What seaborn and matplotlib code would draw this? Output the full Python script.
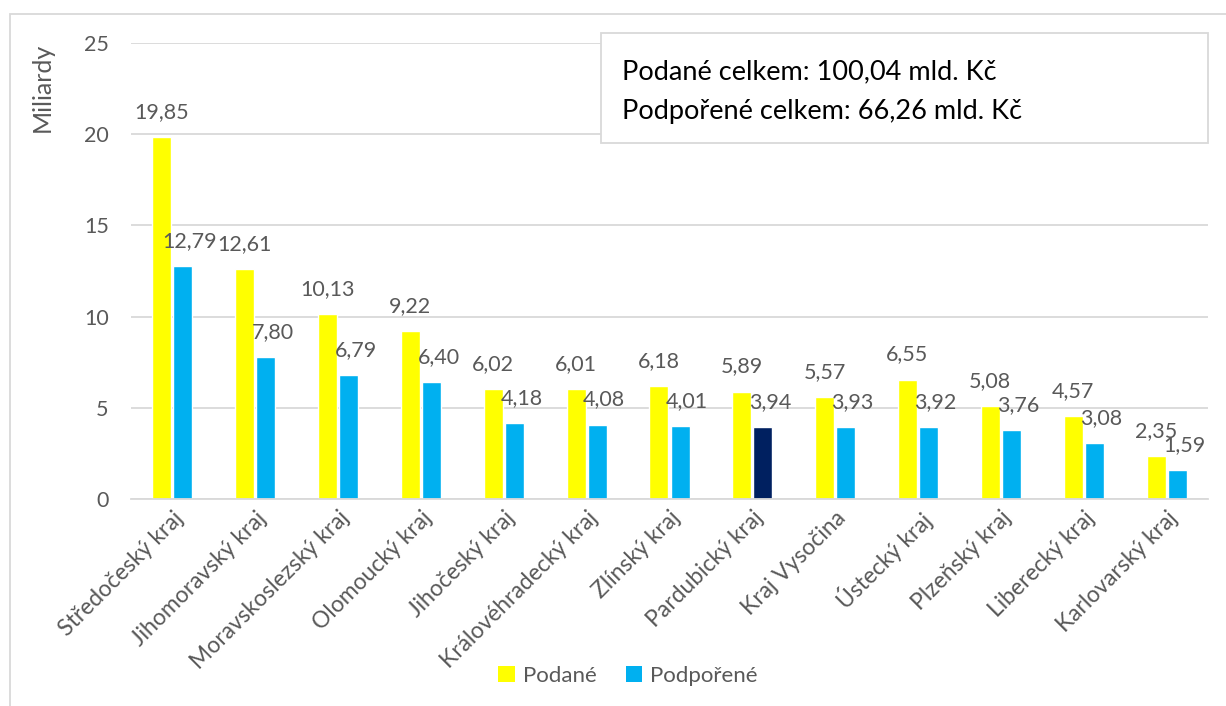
import matplotlib
matplotlib.use("Agg")
import matplotlib.pyplot as plt
import seaborn as sns
import pandas as pd
from matplotlib.patches import Rectangle, Patch

regions = ["Středočeský kraj", "Jihomoravský kraj", "Moravskoslezský kraj", "Olomoucký kraj",
           "Jihočeský kraj", "Královéhradecký kraj", "Zlínský kraj", "Pardubický kraj",
           "Kraj Vysočina", "Ústecký kraj", "Plzeňský kraj", "Liberecký kraj", "Karlovarský kraj"]
podane = [19.85, 12.61, 10.13, 9.22, 6.02, 6.01, 6.18, 5.89, 5.57, 6.55, 5.08, 4.57, 2.35]
podporene = [12.79, 7.80, 6.79, 6.40, 4.18, 4.08, 4.01, 3.94, 3.93, 3.92, 3.76, 3.08, 1.59]
series = ["Podané", "Podpořené"]
highlight_region = "Pardubický kraj"
box_lines = ["Podané celkem: 100,04 mld. Kč", "Podpořené celkem: 66,26 mld. Kč"]

df = pd.DataFrame({
    "kraj": regions * 2,
    "serie": [series[0]] * len(regions) + [series[1]] * len(regions),
    "hodnota": podane + podporene,
})

sns.set_theme(style="white")
plt.rcParams["font.family"] = ["Lato", "DejaVu Sans"]
TXT = "#595959"
colors = {"Podané": "#FFFF00", "Podpořené": "#00B0F0"}

fig = plt.figure(figsize=(12.26, 7.06), dpi=100)
ax = fig.add_axes([131 / 1226, 1 - 499 / 706, (1208 - 131) / 1226, (499 - 43) / 706])

sns.barplot(data=df, x="kraj", y="hodnota", hue="serie", palette=colors, order=regions,
            hue_order=series, width=0.51, gap=0.1, saturation=1, legend=False, ax=ax)

# highlight bar
hi = regions.index(highlight_region)
ax.containers[1][hi].set_facecolor("#002060")

ax.set_ylim(0, 25)
ax.set_yticks([0, 5, 10, 15, 20, 25])
ax.yaxis.grid(True, color="#D9D9D9", linewidth=1.3)
ax.set_axisbelow(True)
for s in ["top", "right", "left"]:
    ax.spines[s].set_visible(False)
ax.spines["bottom"].set_color("#D9D9D9")
ax.spines["bottom"].set_linewidth(1.3)
ax.tick_params(axis="y", length=0, pad=16, labelsize=15.5, labelcolor=TXT)
ax.tick_params(axis="x", length=0, pad=6, labelsize=16.5, labelcolor=TXT)
ax.set_xlim(-0.5, len(regions) - 0.5)
plt.setp(ax.get_xticklabels(), rotation=45, ha="right", rotation_mode="anchor")
ax.set_xlabel("")
ax.set_ylabel("Miliardy", loc="top", fontsize=18, color=TXT)
ax.yaxis.set_label_coords(-0.072, 1.0)

# value labels
for ci, cont in enumerate(ax.containers):
    dx = 0 if ci == 0 else 7
    for bar in cont:
        h = bar.get_height()
        ax.annotate(f"{h:.2f}".replace(".", ","),
                    (bar.get_x() + bar.get_width() / 2, h),
                    xytext=(dx, 25), textcoords="offset pixels",
                    ha="center", va="center", fontsize=15.5, color=TXT)

# info box
fig.patches.append(Rectangle((601 / 1226, 1 - 143 / 706), (1208 - 601) / 1226, (143 - 33) / 706,
                             transform=fig.transFigure, facecolor="white", edgecolor="#D9D9D9",
                             linewidth=1.3, zorder=5))
fig.text(622 / 1226, 1 - 72 / 706, box_lines[0], fontsize=19.5, color="black", va="center", zorder=6)
fig.text(622 / 1226, 1 - 112 / 706, box_lines[1], fontsize=19.5, color="black", va="center", zorder=6)

# outer frame
fig.patches.append(Rectangle((10 / 1226, -0.1), 1.2, 1 - 14 / 706 + 0.1, transform=fig.transFigure,
                             facecolor="none", edgecolor="#D9D9D9", linewidth=1.3, zorder=0))

# legend
handles = [Patch(facecolor=colors[s], edgecolor="none") for s in series]
fig.legend(handles, series, loc="center", bbox_to_anchor=(628 / 1226, 1 - 676 / 706), ncol=2,
           frameon=False, fontsize=16, labelcolor=TXT, handlelength=0.75, handleheight=0.75,
           handletextpad=0.35, columnspacing=1.3)

fig.savefig("out.png", dpi=100)
